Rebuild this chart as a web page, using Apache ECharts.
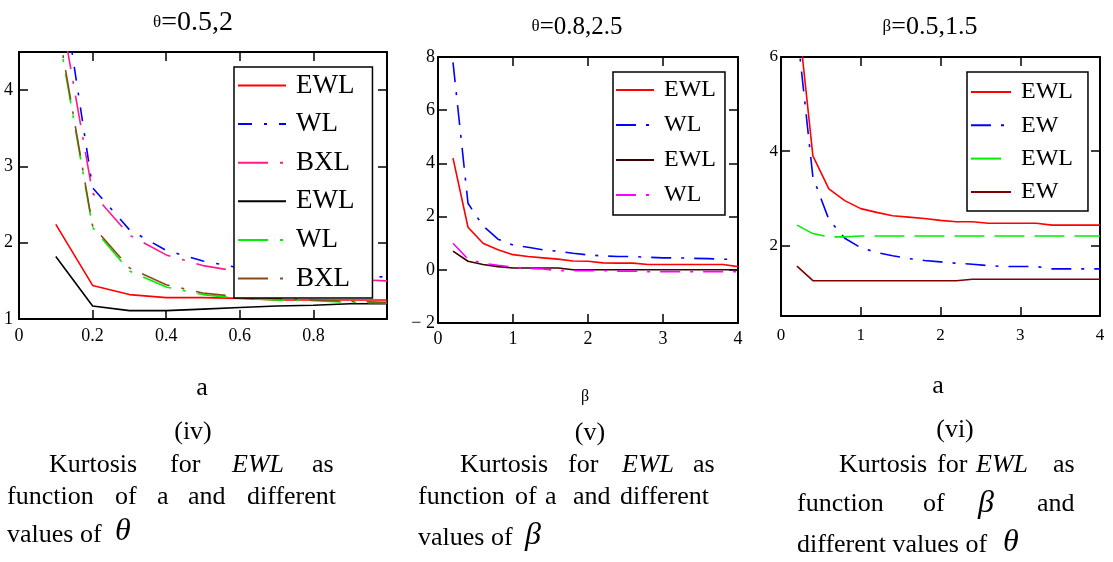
<!DOCTYPE html>
<html>
<head>
<meta charset="utf-8">
<title>Kurtosis for EWL</title>
<script src="https://cdn.jsdelivr.net/npm/echarts@6/dist/echarts.min.js"></script>
<style>
html, body { margin: 0; padding: 0; background: #fff; }
#chart { width: 1113px; height: 562px; }
</style>
</head>
<body>
<div id="chart"></div>
<script>
// (iv) kurtosis as function of a, theta = 0.5 / 2
const aValues = [0.1, 0.2, 0.3, 0.4, 0.5, 0.6, 0.7, 0.8, 0.9, 1.0]
const ewlTheta1 = [2.24, 1.44, 1.32, 1.28, 1.28, 1.27, 1.25, 1.25, 1.25, 1.25]
const wlTheta1 = [5.9, 2.72, 2.17, 1.9, 1.76, 1.67, 1.63, 1.6, 1.57, 1.55]
const bxlTheta1 = [5.4, 2.65, 2.1, 1.84, 1.7, 1.62, 1.57, 1.54, 1.52, 1.5]
const ewlTheta2 = [1.82, 1.17, 1.11, 1.11, 1.13, 1.15, 1.17, 1.18, 1.2, 1.2]
const wlTheta2 = [4.95, 2.2, 1.63, 1.42, 1.32, 1.27, 1.25, 1.24, 1.22, 1.21]
const bxlTheta2 = [5.0, 2.22, 1.67, 1.45, 1.34, 1.29, 1.27, 1.25, 1.23, 1.22]

// (v) and (vi) share the same x grid
const betaValues = [0.2, 0.4, 0.6, 0.8, 1.0, 1.2, 1.4, 1.6, 1.8, 2.0, 2.2, 2.4, 2.6, 2.8, 3.0, 3.2, 3.4, 3.6, 3.8, 4.0]
const ewlTheta08 = [4.2, 1.6, 1.0, 0.75, 0.57, 0.5, 0.45, 0.4, 0.33, 0.32, 0.26, 0.25, 0.25, 0.2, 0.2, 0.2, 0.2, 0.2, 0.2, 0.12]
const wlTheta08 = [7.8, 2.5, 1.65, 1.15, 0.93, 0.85, 0.75, 0.7, 0.62, 0.56, 0.52, 0.5, 0.5, 0.47, 0.45, 0.45, 0.43, 0.42, 0.4, 0.38]
const ewlTheta25 = [0.7, 0.32, 0.2, 0.12, 0.07, 0.07, 0.07, 0.07, 0.0, 0.0, 0.0, 0.0, 0.0, 0.0, 0.0, 0.0, 0.0, 0.0, 0.0, 0.0]
const wlTheta25 = [1.0, 0.4, 0.25, 0.17, 0.1, 0.05, 0.03, -0.03, -0.03, -0.03, -0.03, -0.05, -0.05, -0.07, -0.07, -0.07, -0.07, -0.07, -0.07, -0.07]

const ewlBeta05 = [7.1, 3.9, 3.2, 2.95, 2.78, 2.7, 2.63, 2.6, 2.57, 2.53, 2.5, 2.5, 2.47, 2.47, 2.47, 2.47, 2.43, 2.43, 2.43, 2.43]
const ewBeta05 = [6.6, 3.45, 2.55, 2.15, 1.95, 1.85, 1.78, 1.72, 1.68, 1.65, 1.62, 1.6, 1.57, 1.55, 1.55, 1.55, 1.5, 1.5, 1.5, 1.5]
const ewlBeta15 = [2.43, 2.25, 2.18, 2.18, 2.2, 2.2, 2.2, 2.2, 2.2, 2.2, 2.2, 2.2, 2.2, 2.2, 2.2, 2.2, 2.2, 2.2, 2.2, 2.2]
const ewBeta15 = [1.56, 1.25, 1.25, 1.25, 1.25, 1.25, 1.25, 1.25, 1.25, 1.25, 1.25, 1.28, 1.28, 1.28, 1.28, 1.28, 1.28, 1.28, 1.28, 1.28]

// tick labels
const xLabels1 = [0, 0.2, 0.4, 0.6, 0.8]
const xTicks1 = [0.2, 0.4, 0.6, 0.8]
const yLabels1 = [1, 2, 3, 4]
const yTicks1 = [2, 3, 4]
const xLabels2 = [0, 1, 2, 3, 4]
const yLabels2 = [-2, 0, 2, 4, 6, 8]
const xLabels3 = [0, 1, 2, 3, 4]
const yLabels3 = [2, 4, 6]

const FONT = 'Liberation Serif'

function fmt (v) {
    return v < 0 ? '\u2212 ' + (-v) : String(v)
}

// main axis with labels + mirrored axis on the opposite side (box frame with inner ticks)
function axes (grid, min, max, labels, ticks, pos, margin, size) {
    const base = {
        type: 'value',
        gridIndex: grid,
        min: min,
        max: max,
        splitLine: { show: false },
        axisLine: { onZero: false, lineStyle: { color: '#000', width: 2 } },
        axisTick: { inside: true, length: 9, customValues: ticks, lineStyle: { color: '#000', width: 1.5 } }
    }
    return [
        Object.assign({}, base, {
            position: pos[0],
            axisLabel: { customValues: labels, margin: margin, color: '#000', fontFamily: FONT, fontSize: size, formatter: fmt }
        }),
        Object.assign({}, base, { position: pos[1], axisLabel: { show: false } })
    ]
}

function line (name, xs, ys, axis, color, dash) {
    return {
        type: 'line',
        name: name,
        xAxisIndex: axis,
        yAxisIndex: axis,
        data: xs.map((x, i) => [x, ys[i]]),
        symbol: 'none',
        silent: true,
        itemStyle: { color: color },
        lineStyle: { color: color, width: 1.6, type: dash }
    }
}

function legend (names, left, top, size, iconW, gap, padding) {
    return {
        data: names,
        orient: 'vertical',
        left: left,
        top: top,
        itemWidth: iconW,
        itemHeight: 22,
        itemGap: gap,
        padding: padding,
        borderColor: '#000',
        borderWidth: 1.5,
        backgroundColor: '#fff',
        selectedMode: false,
        itemStyle: { opacity: 0 }, // hide the circle, keep the line
        formatter: n => n.split('_')[0],
        textStyle: { fontFamily: FONT, fontSize: size, color: '#000', lineHeight: 22, padding: [0, 0, 0, 5] }
    }
}

function txt (x, y, text, size, italic, align) {
    return {
        type: 'text',
        x: x,
        y: y,
        style: {
            text: text,
            fill: '#000',
            font: (italic ? 'italic ' : '') + size + 'px "' + FONT + '"',
            textAlign: align || 'left',
            textVerticalAlign: 'middle'
        }
    }
}

function title (x, y, sym, rest, big) {
    return {
        type: 'text',
        x: x,
        y: y,
        style: {
            text: '{s|' + sym + '}{b|' + rest + '}',
            textAlign: 'center',
            textVerticalAlign: 'middle',
            rich: {
                s: { fontFamily: FONT, fontSize: 17, color: '#000', verticalAlign: 'middle' },
                b: { fontFamily: FONT, fontSize: big, color: '#000', verticalAlign: 'middle' }
            }
        }
    }
}

const dashDot = [14, 12, 3, 12]
const longDashDot = [30, 12, 3, 12]

const x1 = axes(0, 0, 1, xLabels1, xTicks1, ['bottom', 'top'], 8, 18)
const y1 = axes(0, 1, 4.5, yLabels1, yTicks1, ['left', 'right'], 6, 18)
const x2 = axes(1, 0, 4, xLabels2, xLabels2, ['bottom', 'top'], 7, 18)
const y2 = axes(1, -2, 8, yLabels2, yLabels2, ['left', 'right'], 3, 18)
const x3 = axes(2, 0, 4, xLabels3, xLabels3, ['bottom', 'top'], 11, 17)
const y3 = axes(2, 0.5, 6, yLabels3, yLabels3, ['left', 'right'], 3, 17)

const myChart = echarts.init(document.getElementById('chart'))
const option = {
    animation: false,
    backgroundColor: '#fff',
    grid: [
        { left: 19, top: 52, width: 368, height: 267 },
        { left: 438, top: 57, width: 300, height: 266 },
        { left: 781, top: 57, width: 319, height: 259 }
    ],
    xAxis: [].concat(x1, x2, x3),
    yAxis: [].concat(y1, y2, y3),
    legend: [
        legend(['EWL_1', 'WL_1', 'BXL_1', 'EWL_2', 'WL_2', 'BXL_2'], 234, 67, 27, 48, 11.6, [5, 18, 6, 3]),
        legend(['EWL_3', 'WL_3', 'EWL_4', 'WL_4'], 613, 72, 24, 38, 11, [6, 9, 8, 2]),
        legend(['EWL_5', 'EW_5', 'EWL_6', 'EW_6'], 967, 72, 24, 40, 9.3, [8, 15, 7, 3])
    ],
    series: [
        line('EWL_1', aValues, ewlTheta1, 0, '#ff0000', 'solid'),
        line('WL_1', aValues, wlTheta1, 0, '#0000ff', dashDot),
        line('BXL_1', aValues, bxlTheta1, 0, '#ff1a8c', longDashDot),
        line('EWL_2', aValues, ewlTheta2, 0, '#000000', 'solid'),
        line('WL_2', aValues, wlTheta2, 0, '#00ee00', longDashDot),
        line('BXL_2', aValues, bxlTheta2, 0, '#8b4a1a', longDashDot),

        line('EWL_3', betaValues, ewlTheta08, 2, '#ff0000', 'solid'),
        line('WL_3', betaValues, wlTheta08, 2, '#0000ff', [20, 10, 3, 10]),
        line('EWL_4', betaValues, ewlTheta25, 2, '#3d0000', 'solid'),
        line('WL_4', betaValues, wlTheta25, 2, '#ff00ff', [20, 10, 3, 10]),

        line('EWL_5', betaValues, ewlBeta05, 4, '#ff0000', 'solid'),
        line('EW_5', betaValues, ewBeta05, 4, '#0000ff', [20, 10, 3, 10]),
        line('EWL_6', betaValues, ewlBeta15, 4, '#00ee00', [30, 10]),
        line('EW_6', betaValues, ewBeta15, 4, '#800000', 'solid')
    ],
    graphic: [
        title(193, 23, 'θ', '=0.5,2', 28),
        title(577, 27, 'θ', '=0.8,2.5', 25),
        title(930, 27, 'β', '=0.5,1.5', 26),

        txt(202, 388, 'a', 26, false, 'center'),
        txt(585, 397, 'β', 16, false, 'center'),
        txt(938, 386, 'a', 26, false, 'center'),
        txt(193, 432, '(iv)', 26, false, 'center'),
        txt(590, 433, '(v)', 26, false, 'center'),
        txt(955, 430, '(vi)', 26, false, 'center'),

        // caption (iv)
        txt(49, 465, 'Kurtosis', 26), txt(170, 465, 'for', 26), txt(232, 465, 'EWL', 26, true), txt(312, 465, 'as', 26),
        txt(7, 497, 'function', 26), txt(115, 497, 'of', 26), txt(157, 497, 'a', 26), txt(188, 497, 'and', 26), txt(247, 497, 'different', 26),
        txt(7, 535, 'values of', 26), txt(115, 532, 'θ', 32, true),

        // caption (v)
        txt(460, 465, 'Kurtosis', 26), txt(568, 465, 'for', 26), txt(622, 465, 'EWL', 26, true), txt(693, 465, 'as', 26),
        txt(418, 497, 'function', 26), txt(515, 497, 'of', 26), txt(545, 497, 'a', 26), txt(573, 497, 'and', 26), txt(620, 497, 'different', 26),
        txt(418, 538, 'values of', 26), txt(525, 536, 'β', 32, true),

        // caption (vi)
        txt(839, 465, 'Kurtosis', 26), txt(937, 465, 'for', 26), txt(976, 465, 'EWL', 26, true), txt(1053, 465, 'as', 26),
        txt(797, 504, 'function', 26), txt(923, 504, 'of', 26), txt(978, 504, 'β', 32, true), txt(1037, 504, 'and', 26),
        txt(797, 545, 'different values of', 26), txt(1003, 543, 'θ', 32, true)
    ]
}
myChart.setOption(option)
window.onresize = myChart.resize
</script>
</body>
</html>
